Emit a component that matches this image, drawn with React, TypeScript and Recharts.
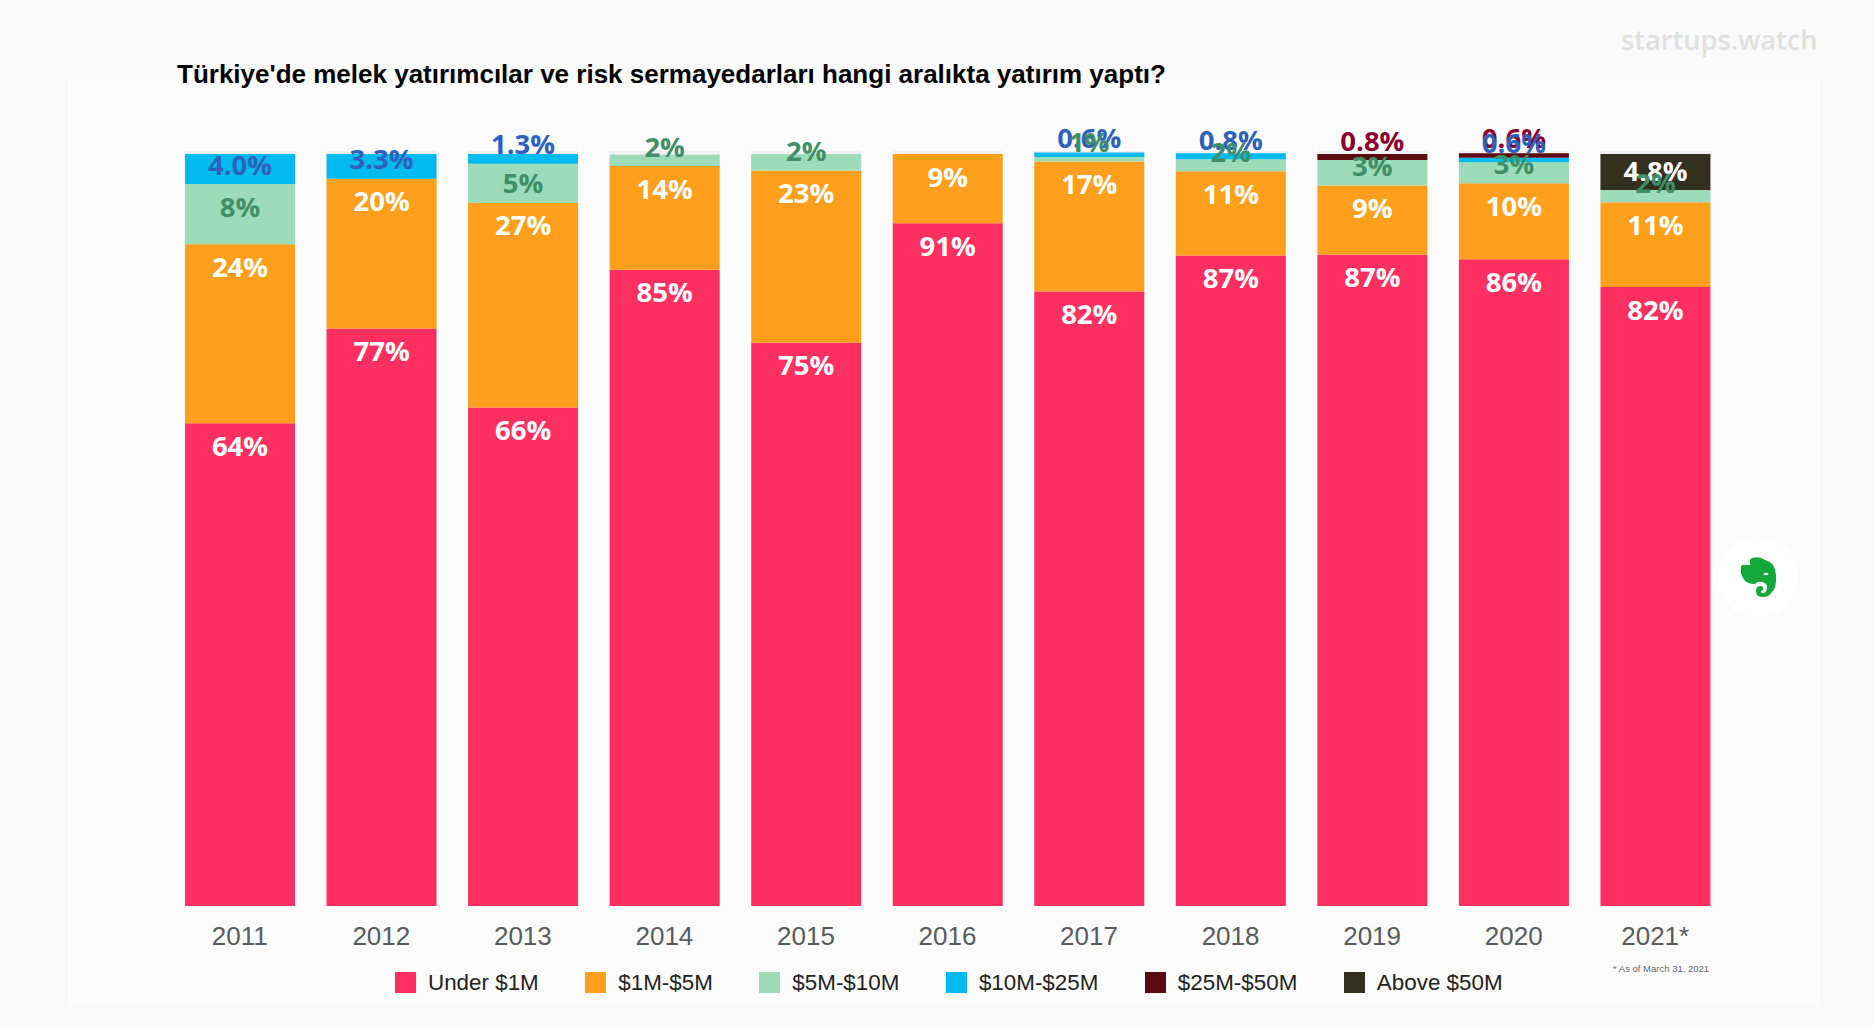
import React from 'react';
import { BarChart, Bar, XAxis, YAxis, LabelList } from 'recharts';

const years = ['2011', '2012', '2013', '2014', '2015', '2016', '2017', '2018', '2019', '2020', '2021*'];
const under1M = [64.2, 76.8, 66.3, 84.6, 74.9, 90.8, 81.7, 86.5, 86.6, 86.0, 82.3];
const m1to5 = [23.8, 19.9, 27.2, 13.8, 22.9, 9.2, 17.3, 11.2, 9.2, 10.1, 11.3];
const m5to10 = [8.0, 0, 5.2, 1.5, 2.2, 0, 0.6, 1.6, 3.4, 2.8, 1.6];
const m10to25 = [4.0, 3.3, 1.3, 0, 0, 0, 0.6, 0.8, 0, 0.6, 0];
const m25to50 = [0, 0, 0, 0, 0, 0, 0, 0, 0.8, 0.6, 0];
const above50M = [0, 0, 0, 0, 0, 0, 0, 0, 0, 0, 4.8];

const seriesList = [
  { key: 'under1M', name: 'Under $1M', values: under1M, fill: '#FF3061', text: '#FFFFFF', digits: 0, z: 2100 },
  { key: 'm1to5', name: '$1M-$5M', values: m1to5, fill: '#FF9F1C', text: '#FFFFFF', digits: 0, z: 2200 },
  { key: 'm5to10', name: '$5M-$10M', values: m5to10, fill: '#9CDCB8', text: '#3F9069', digits: 0, z: 2600 },
  { key: 'm10to25', name: '$10M-$25M', values: m10to25, fill: '#00BAF0', text: '#2C62BD', digits: 1, z: 2500 },
  { key: 'm25to50', name: '$25M-$50M', values: m25to50, fill: '#5C0A0E', text: '#8C0030', digits: 1, z: 2400 },
  { key: 'above50M', name: 'Above $50M', values: above50M, fill: '#33301F', text: '#FFFFFF', digits: 1, z: 2300 },
];

const chartData = years.map((year, i) => {
  const row: Record<string, string | number> = { year };
  seriesList.forEach((s) => {
    row[s.key] = s.values[i];
  });
  return row;
});

const makeLabel = (color: string, digits: number) => (props: any) => {
  const { x, y, width, height, value } = props;
  if (!value) return null;
  const top = Number(y);
  const bottom = top + Number(height);
  const cy = Math.min(top + 22, bottom - 20);
  return (
    <text
      x={Number(x) + Number(width) / 2}
      y={cy}
      textAnchor="middle"
      dominantBaseline="central"
      fill={color}
      fontFamily="'Open Sans', sans-serif"
      fontWeight={700}
      fontSize={27.5}
    >
      {Number(value).toFixed(digits)}%
    </text>
  );
};

const ChartLegend = () => (
  <div
    style={{
      position: 'absolute',
      left: 395,
      top: 972,
      display: 'flex',
      gap: 46.5,
      fontFamily: "'Liberation Sans', Arial, sans-serif",
      fontSize: 22.4,
      lineHeight: '21px',
      color: '#222',
    }}
  >
    {seriesList.map((s) => (
      <div key={s.key} style={{ display: 'flex', alignItems: 'center', whiteSpace: 'nowrap' }}>
        <span style={{ width: 21, height: 21, background: s.fill, marginRight: 12 }} />
        {s.name}
      </div>
    ))}
  </div>
);

export default function App() {
  return (
    <div style={{ position: 'absolute', left: 0, top: 0, width: 1874, height: 1026, overflow: 'hidden', background: '#FAFAFA' }}>
      <div style={{ position: 'absolute', left: 68, top: 80, width: 1752, height: 925, background: '#FCFCFC' }} />
      <div
        style={{
          position: 'absolute',
          left: 177,
          top: 58,
          fontFamily: "'Liberation Sans', Arial, sans-serif",
          fontWeight: 700,
          fontSize: 26,
          lineHeight: '32px',
          color: '#000',
          whiteSpace: 'nowrap',
        }}
      >
        Türkiye'de melek yatırımcılar ve risk sermayedarları hangi aralıkta yatırım yaptı?
      </div>
      <div
        style={{
          position: 'absolute',
          left: 1621,
          top: 22,
          fontFamily: "'Open Sans', sans-serif",
          fontWeight: 600,
          fontSize: 27.2,
          lineHeight: '36px',
          color: '#DFDFDF',
          whiteSpace: 'nowrap',
        }}
      >
        startups.watch
      </div>

      <div style={{ position: 'absolute', left: 0, top: 0 }}>
        <BarChart
          width={1874}
          height={1026}
          data={chartData}
          barCategoryGap={16}
          margin={{ top: 151, right: 148, bottom: 60, left: 169 }}
        >
          <XAxis
            dataKey="year"
            height={60}
            axisLine={false}
            tickLine={false}
            interval={0}
            tickMargin={15}
            tick={{ fontFamily: "'Liberation Sans', Arial, sans-serif", fontSize: 26, fill: '#565B60' }}
          />
          <YAxis hide type="number" domain={[0, 100.4]} />
          {seriesList.map((s, i) => (
            <Bar
              key={s.key}
              dataKey={s.key}
              name={s.name}
              stackId="total"
              fill={s.fill}
              background={i === 0 ? { fill: '#F1F1F4' } : undefined}
              isAnimationActive={false}
            >
              <LabelList dataKey={s.key} content={makeLabel(s.text, s.digits)} zIndex={s.z} />
            </Bar>
          ))}
        </BarChart>
      </div>

      <ChartLegend />
      <div
        style={{
          position: 'absolute',
          left: 1613,
          top: 963,
          fontFamily: "'Liberation Sans', Arial, sans-serif",
          fontSize: 9.5,
          lineHeight: '12px',
          color: '#666',
          whiteSpace: 'nowrap',
        }}
      >
        * As of March 31, 2021
      </div>

      <svg style={{ position: 'absolute', left: 1718, top: 537 }} width={80} height={80} viewBox="0 0 80 80">
        <circle cx={40} cy={40} r={40} fill="#FFFFFF" />
        <path
          d="M34 21 Q42 19 47 23 Q57 25 58 38 Q59 52 53 56 Q51 60 45 60 Q38 60 38 54 Q38 49 43 49 Q46 50 45 53 Q43 53 43 55 Q44 57 46 56 Q49 55 49 50 Q49 46 44 45 Q39 44 37 47 Q28 47 25 41 Q22 36 23 29 Z"
          fill="#14A83B"
        />
        <path d="M24 28 L32 21 L32 28 Z" fill="#E4F3E7" />
        <ellipse cx={48} cy={37} rx={2.5} ry={1.2} fill="#FFFFFF" />
      </svg>
    </div>
  );
}
